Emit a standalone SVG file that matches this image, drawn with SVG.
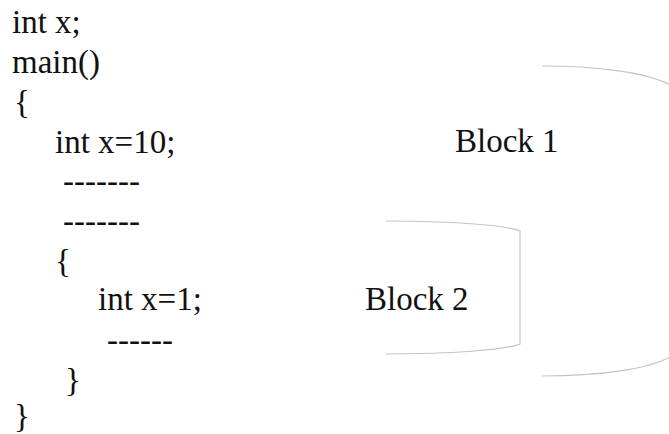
<svg xmlns="http://www.w3.org/2000/svg" width="669" height="434" viewBox="0 0 669 434">
<style>
text{font-family:"Liberation Serif","Times New Roman",serif;font-size:33px;fill:#111}
.br{fill:none;stroke:#c4c4c4;stroke-width:1.2}
</style>
<rect width="669" height="434" fill="#fff"/>
<g id="code">
<text x="12" y="33">int x;</text>
<text x="12" y="73">main()</text>
<text x="14" y="113">{</text>
<text x="55" y="153">int x=10;</text>
<text x="63" y="192">-------</text>
<text x="63" y="232">-------</text>
<text x="55" y="272">{</text>
<text x="98" y="310">int x=1;</text>
<text x="107" y="351">------</text>
<text x="65" y="391">}</text>
<text x="14" y="427">}</text>
</g>
<g id="block1">
<text x="455" y="152">Block 1</text>
</g>
<g id="block2">
<text x="365" y="310">Block 2</text>
</g>
<g id="connectors">
<path class="br" d="M542,66 C600,66 650,73 672,86 L672,356 C650,369 600,376 542,376"/>
<path class="br" d="M386,221 C450,221 505,225 520,231 L520,344 C505,350 450,354 386,354"/>
</g>
</svg>
